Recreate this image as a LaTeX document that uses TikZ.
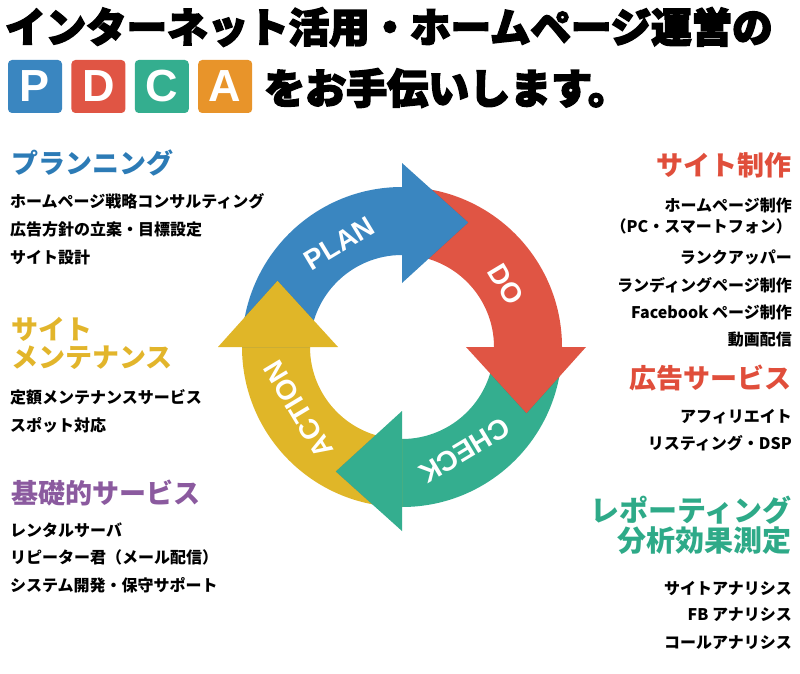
\documentclass[tikz,border=0pt]{standalone}
\usepackage{fontspec}
\setmainfont{Noto Sans CJK JP}
\newfontfamily\titlefont{Noto Sans CJK JP}[BoldFeatures={FakeBold=4}]
\newfontfamily\lblfont{Liberation Sans}
\newfontfamily\boxfont{Liberation Sans}
\usetikzlibrary{positioning,calc}

\definecolor{planblue}{HTML}{3A86C0}
\definecolor{dored}{HTML}{E05544}
\definecolor{checkgreen}{HTML}{34AE8F}
\definecolor{actyellow}{HTML}{E0B628}
\definecolor{actorange}{HTML}{E8942A}
\definecolor{darkblue}{HTML}{2B6B9C}
\definecolor{darkred}{HTML}{B33A2D}
\definecolor{darkgreen}{HTML}{24876C}
\definecolor{darkorange}{HTML}{D97A2A}
\definecolor{headblue}{HTML}{2C7BB6}
\definecolor{headred}{HTML}{E04E3B}
\definecolor{headyellow}{HTML}{E2B52B}
\definecolor{headpurple}{HTML}{8B5A9F}
\definecolor{headgreen}{HTML}{2EAA88}

\tikzset{
  pdcabox/.style={rectangle,rounded corners=4pt,minimum width=54pt,minimum height=53pt,
    inner sep=0pt,text=white,font=\boxfont\bfseries\fontsize{45}{45}\selectfont},
  cathead/.style={inner sep=0pt,font=\bfseries\fontsize{27}{30}\selectfont},
  item/.style={inner sep=0pt,font=\bfseries\fontsize{16}{18}\selectfont},
  ringlbl/.style={inner sep=0pt,text=white,font=\lblfont\bfseries\fontsize{28}{28}\selectfont}
}

\begin{document}
\begin{tikzpicture}[x=1pt,y=1pt]
    \useasboundingbox[fill=white] (0,0) rectangle (800,-674);

    % Titel
    \node[inner sep=0pt,anchor=west,font=\titlefont\bfseries\fontsize{40.5}{42}\selectfont] (title) at (5,-27)
        {インターネット活用・ホームページ運営の};
    \node[pdcabox,fill=planblue] (boxP) at (35,-86.5) {P};
    \node[pdcabox,fill=dored,right=9pt of boxP] (boxD) {D};
    \node[pdcabox,fill=checkgreen,right=9pt of boxD] (boxC) {C};
    \node[pdcabox,fill=actorange,right=9pt of boxC] (boxA) {A};
    \node[inner sep=0pt,anchor=west,font=\titlefont\bfseries\fontsize{41}{42}\selectfont] (subtitle) at (264,-88)
        {をお手伝いします。};

    % Kreis
    \coordinate (c) at (402,-347);
    \foreach \b/\col in {90/planblue,0/dored,-90/checkgreen,180/actyellow}{
        \fill[\col] ([shift={(\b+90:160)}]c) arc[start angle=\b+90,delta angle=-90,radius=160]
            -- ([shift={(\b:92)}]c) arc[start angle=\b,delta angle=90,radius=92] -- cycle;
    }
    \foreach \b/\col/\shade/\lbl/\name in {90/planblue/darkred/PLAN/plan,0/dored/darkgreen/DO/do,
        -90/checkgreen/darkorange/CHECK/check,180/actyellow/darkblue/ACTION/action}{
        % Schatten
        \begin{scope}
            \clip ([shift={(\b:160)}]c) arc[start angle=\b,delta angle=-90,radius=160]
                -- ([shift={(\b-90:92)}]c) arc[start angle=\b-90,delta angle=90,radius=92] -- cycle;
            \fill[\shade,shift={(\b-136:8)}] ([shift={(\b:64)}]c) -- ([shift={(\b:184)}]c)
                -- ([shift={(\b-28:141)}]c) -- cycle;
        \end{scope}
        % Pfeilspitze
        \fill[\col] ([shift={(\b:64)}]c) -- ([shift={(\b:184)}]c) -- ([shift={(\b-28:141)}]c) -- cycle;
        \node[ringlbl,rotate=\b-59] (lbl-\name) at ([shift={(\b+31:121)}]c) {\lbl};
    }

    % Links
    \node[cathead,text=headblue,anchor=west] (plan-head) at (11,-163) {プランニング};
    \node[item,anchor=west] (plan-1) at (10,-201) {ホームページ戦略コンサルティング};
    \node[item,anchor=west] (plan-2) at (10,-229) {広告方針の立案・目標設定};
    \node[item,anchor=west] (plan-3) at (10,-257) {サイト設計};

    \node[cathead,text=headyellow,anchor=west] (mnt-head1) at (11,-329) {サイト};
    \node[cathead,text=headyellow,anchor=west] (mnt-head2) at (11,-358) {メンテナンス};
    \node[item,anchor=west] (mnt-1) at (10,-397) {定額メンテナンスサービス};
    \node[item,anchor=west] (mnt-2) at (10,-425) {スポット対応};

    \node[cathead,text=headpurple,anchor=west] (base-head) at (11,-493) {基礎的サービス};
    \node[item,anchor=west] (base-1) at (10,-530) {レンタルサーバ};
    \node[item,anchor=west] (base-2) at (10,-557) {リピーター君（メール配信）};
    \node[item,anchor=west] (base-3) at (10,-585) {システム開発・保守サポート};

    % Rechts
    \node[cathead,text=headred,anchor=east] (make-head) at (792,-165) {サイト制作};
    \node[item,anchor=east] (make-1) at (792,-205) {ホームページ制作};
    \node[item,anchor=east] (make-2) at (792,-226) {（PC・スマートフォン）};
    \node[item,anchor=east] (make-3) at (792,-257) {ランクアッパー};
    \node[item,anchor=east] (make-4) at (792,-285) {ランディングページ制作};
    \node[item,anchor=east] (make-5) at (792,-312) {Facebook ページ制作};
    \node[item,anchor=east] (make-6) at (792,-340) {動画配信};

    \node[cathead,text=headred,anchor=east] (ad-head) at (792,-378) {広告サービス};
    \node[item,anchor=east] (ad-1) at (792,-417) {アフィリエイト};
    \node[item,anchor=east] (ad-2) at (792,-443) {リスティング・DSP};

    \node[cathead,text=headgreen,anchor=east,font=\bfseries\fontsize{29}{30}\selectfont] (rep-head1) at (792,-510) {レポーティング};
    \node[cathead,text=headgreen,anchor=east,font=\bfseries\fontsize{29}{30}\selectfont] (rep-head2) at (792,-541) {分析効果測定};
    \node[item,anchor=east] (rep-1) at (792,-588) {サイトアナリシス};
    \node[item,anchor=east] (rep-2) at (792,-615) {FB アナリシス};
    \node[item,anchor=east] (rep-3) at (792,-643) {コールアナリシス};
\end{tikzpicture}
\end{document}
